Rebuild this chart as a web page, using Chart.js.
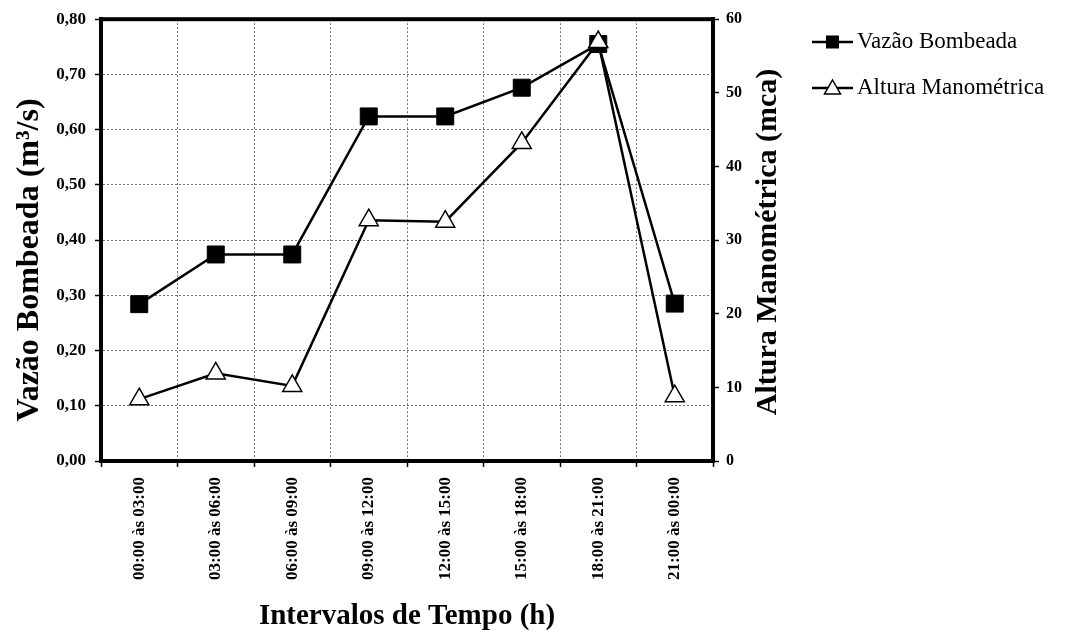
<!DOCTYPE html>
<html lang="pt">
<head>
<meta charset="utf-8">
<title>Vazão Bombeada x Altura Manométrica</title>
<script src="https://cdn.jsdelivr.net/npm/chart.js@4.4.1/dist/chart.umd.min.js"></script>
<style>
  html, body { margin: 0; padding: 0; background: #fff; }
  #grafico { display: block; }
</style>
</head>
<body>
<canvas id="grafico" width="1067" height="639"></canvas>
<script>
// dados
const intervalos = [
    '00:00 às 03:00', '03:00 às 06:00', '06:00 às 09:00', '09:00 às 12:00',
    '12:00 às 15:00', '15:00 às 18:00', '18:00 às 21:00', '21:00 às 00:00'
];
const vazaoBombeada = [0.284, 0.374, 0.374, 0.624, 0.624, 0.676, 0.755, 0.285];      // m3/s
const alturaManometrica = [8.4, 11.9, 10.2, 32.7, 32.5, 43.2, 56.9, 8.8];            // mca
const vazaoTickLabels = ['0,00', '0,10', '0,20', '0,30', '0,40', '0,50', '0,60', '0,70', '0,80'];
const alturaTickLabels = ['0', '10', '20', '30', '40', '50', '60'];

const SERIF = "'Liberation Serif', 'Times New Roman', serif";

// moldura grossa, títulos verticais e legenda à direita
const molduraEtitulos = {
    id: 'molduraEtitulos',
    beforeDatasetsDraw(chart) {
        const {ctx, chartArea: a} = chart;
        ctx.save();
        ctx.strokeStyle = '#000';
        ctx.lineWidth = 4;
        ctx.strokeRect(a.left, a.top, a.right - a.left, a.bottom - a.top);
        ctx.restore();
    },
    afterDraw(chart) {
        const ctx = chart.ctx;
        ctx.save();
        ctx.fillStyle = '#000';
        ctx.textAlign = 'center';
        ctx.textBaseline = 'middle';

        ctx.font = 'bold 32px ' + SERIF;
        ctx.save();
        ctx.translate(30, 260);
        ctx.rotate(-Math.PI / 2);
        ctx.fillText('Vazão Bombeada (m³/s)', 0, 0);
        ctx.restore();

        ctx.font = 'bold 30px ' + SERIF;
        ctx.save();
        ctx.translate(768, 242);
        ctx.rotate(-Math.PI / 2);
        ctx.fillText('Altura Manométrica (mca)', 0, 0);
        ctx.restore();

        // legenda
        const linhas = [42, 88];
        chart.data.datasets.forEach((ds, i) => {
            const y = linhas[i];
            ctx.strokeStyle = '#000';
            ctx.lineWidth = 2.5;
            ctx.beginPath();
            ctx.moveTo(812, y);
            ctx.lineTo(853, y);
            ctx.stroke();
            const cx = 832.5;
            if (ds.pointStyle === 'rect') {
                ctx.fillStyle = '#000';
                ctx.fillRect(cx - 6.5, y - 6.5, 13, 13);
            } else {
                ctx.beginPath();
                ctx.moveTo(cx, y - 8);
                ctx.lineTo(cx + 8, y + 6);
                ctx.lineTo(cx - 8, y + 6);
                ctx.closePath();
                ctx.fillStyle = '#fff';
                ctx.fill();
                ctx.lineWidth = 1.5;
                ctx.stroke();
            }
            ctx.fillStyle = '#000';
            ctx.textAlign = 'left';
            ctx.font = '23px ' + SERIF;
            ctx.fillText(ds.label, 857, y);
        });
        ctx.restore();
    }
};

const gridPontilhado = {
    color: 'rgba(0, 0, 0, 0.55)',
    lineWidth: 1,
    tickColor: '#000',
    tickWidth: 1.5,
    tickLength: 6
};

new Chart(document.getElementById('grafico'), {
    type: 'line',
    data: {
        labels: intervalos,
        datasets: [{
            label: 'Vazão Bombeada',
            data: vazaoBombeada,
            yAxisID: 'y',
            order: 1,
            borderColor: '#000',
            borderWidth: 2.5,
            pointStyle: 'rect',
            pointRadius: 12,
            pointHoverRadius: 12,
            pointBackgroundColor: '#000',
            pointBorderColor: '#000',
            pointBorderWidth: 1,
            tension: 0
        }, {
            label: 'Altura Manométrica',
            data: alturaManometrica,
            yAxisID: 'y1',
            order: 0,
            borderColor: '#000',
            borderWidth: 2.5,
            pointStyle: 'triangle',
            pointRadius: 11,
            pointHoverRadius: 11,
            pointBackgroundColor: '#fff',
            pointBorderColor: '#000',
            pointBorderWidth: 1.5,
            tension: 0
        }]
    },
    options: {
        responsive: false,
        animation: false,
        devicePixelRatio: 1,
        layout: {
            padding: {top: 15, left: 0, right: 0, bottom: 0}
        },
        scales: {
            x: {
                offset: true,
                grid: Object.assign({offset: true}, gridPontilhado),
                border: {display: true, color: '#000', width: 4, dash: [2, 2]},
                ticks: {
                    minRotation: 90,
                    maxRotation: 90,
                    autoSkip: false,
                    padding: 10,
                    color: '#000',
                    font: {family: SERIF, size: 17, weight: 'bold'}
                },
                title: {
                    display: true,
                    text: 'Intervalos de Tempo (h)',
                    color: '#000',
                    font: {family: SERIF, size: 29, weight: 'bold'},
                    padding: {top: 0, bottom: 5}
                },
                afterFit(scale) { scale.height = 178; }
            },
            y: {
                position: 'left',
                min: 0,
                max: 0.8,
                grid: gridPontilhado,
                border: {display: true, color: '#000', width: 4, dash: [2, 2]},
                ticks: {
                    stepSize: 0.1,
                    padding: 9,
                    color: '#000',
                    font: {family: SERIF, size: 17, weight: 'bold'},
                    callback: (v, i) => vazaoTickLabels[i]
                },
                afterFit(scale) { scale.width = 101; }
            },
            y1: {
                position: 'right',
                min: 0,
                max: 60,
                grid: Object.assign({}, gridPontilhado, {drawOnChartArea: false}),
                border: {display: true, color: '#000', width: 4},
                ticks: {
                    stepSize: 10,
                    padding: 7,
                    color: '#000',
                    font: {family: SERIF, size: 16, weight: 'bold'},
                    callback: (v, i) => alturaTickLabels[i]
                },
                afterFit(scale) { scale.width = 1067 - 713; }
            }
        },
        plugins: {
            legend: {display: false},
            tooltip: {enabled: false}
        }
    },
    plugins: [molduraEtitulos]
});
</script>
</body>
</html>
